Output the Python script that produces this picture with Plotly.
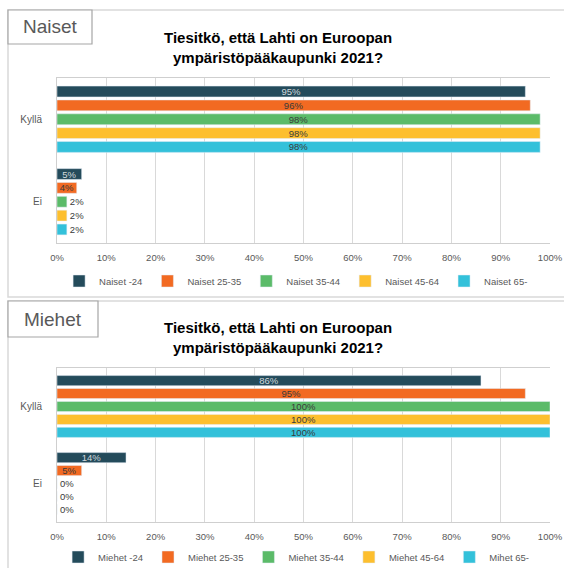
import plotly.graph_objects as go

# data
categories = ["Kyllä", "Ei"]
naiset_names = ["Naiset -24", "Naiset 25-35", "Naiset 35-44", "Naiset 45-64", "Naiset 65-"]
naiset_kylla = [95, 96, 98, 98, 98]
naiset_ei = [5, 4, 2, 2, 2]
miehet_names = ["Miehet -24", "Miehet 25-35", "Miehet 35-44", "Miehet 45-64", "Mihet 65-"]
miehet_kylla = [86, 95, 100, 100, 100]
miehet_ei = [14, 5, 0, 0, 0]
colors = ["#244b5b", "#f26a22", "#5bbb69", "#fdbf2e", "#33c1da"]
label_colors = ["#d0d8dc", "#3a3a3a", "#3a3a3a", "#3a3a3a", "#3a3a3a"]
title_text = "Tiesitkö, että Lahti on Euroopan<br>ympäristöpääkaupunki 2021?"

FONT = "Liberation Sans, Arial, sans-serif"
W, H = 564, 568

def px_y(y):
    return 1 - y / H

def px_x(x):
    return x / W

fig = go.Figure()

def add_group(names, kylla, ei, xa, ya, leg):
    for i, name in enumerate(names):
        vals = [kylla[i], ei[i]]
        fig.add_trace(go.Bar(
            name=name, y=categories, x=vals, orientation="h",
            marker_color=colors[i],
            text=[f"{v}%" for v in vals],
            textposition=["inside" if v >= 4 else "outside" for v in vals],
            insidetextanchor="middle",
            constraintext="none",
            textangle=0,
            insidetextfont=dict(size=9.5, color=label_colors[i], family=FONT),
            outsidetextfont=dict(size=9.5, color="#3a3a3a", family=FONT),
            cliponaxis=False,
            xaxis=xa, yaxis=ya, legend=leg,
        ))

add_group(naiset_names, naiset_kylla, naiset_ei, "x", "y", "legend")
add_group(miehet_names, miehet_kylla, miehet_ei, "x2", "y2", "legend2")

xdom = [px_x(57), px_x(550)]
xax = dict(range=[0, 100], dtick=10, ticksuffix="%", showgrid=True, gridcolor="#d9d9d9",
           showline=True, linecolor="#cfcfcf", mirror=True, zeroline=False,
           tickfont=dict(size=9.5, color="#595959", family=FONT), ticks="",
           ticklabelstandoff=6, domain=xdom, fixedrange=True)
yax = dict(autorange="reversed", showgrid=False, showline=True, linecolor="#cfcfcf",
           tickfont=dict(size=10, color="#595959", family=FONT), ticks="",
           ticklabelstandoff=12, fixedrange=True)

legend_common = dict(orientation="h", xanchor="center", x=0.525, yanchor="middle",
                     font=dict(size=9.5, color="#595959", family=FONT),
                     bgcolor="rgba(0,0,0,0)", itemwidth=30, tracegroupgap=0)

fig.update_layout(
    width=W, height=H, margin=dict(l=0, r=0, t=0, b=0, pad=0, autoexpand=False),
    paper_bgcolor="white", plot_bgcolor="white",
    font=dict(family=FONT, color="#595959"),
    barmode="group", bargap=0.16, bargroupgap=0.22,
    xaxis=dict(xax, anchor="y"),
    yaxis=dict(yax, domain=[px_y(243), px_y(78)], anchor="x"),
    xaxis2=dict(xax, anchor="y2"),
    yaxis2=dict(yax, domain=[px_y(522), px_y(368)], anchor="x2"),
    legend=dict(legend_common, y=px_y(281)),
    legend2=dict(legend_common, y=px_y(557)),
)

# panel frames
frame = dict(type="rect", xref="paper", yref="paper", line=dict(color="#d9d9d9", width=1.5))
fig.add_shape(frame, x0=px_x(8), x1=px_x(566), y0=px_y(297), y1=px_y(10))
fig.add_shape(frame, x0=px_x(8), x1=px_x(566), y0=px_y(572), y1=px_y(301))

# group label boxes
box = dict(type="rect", xref="paper", yref="paper", line=dict(color="#a6a6a6", width=1.2),
           fillcolor="white")
fig.add_shape(box, x0=px_x(8), x1=px_x(92), y0=px_y(44), y1=px_y(10))
fig.add_shape(box, x0=px_x(8), x1=px_x(98), y0=px_y(337), y1=px_y(301))
lab = dict(xref="paper", yref="paper", showarrow=False, xanchor="center", yanchor="middle",
           font=dict(size=19, color="#595959", family=FONT))
fig.add_annotation(lab, text="Naiset", x=px_x(50), y=px_y(27))
fig.add_annotation(lab, text="Miehet", x=px_x(53), y=px_y(319))

# titles
for yc in (47, 337):
    fig.add_annotation(text="<b>" + title_text + "</b>", x=px_x(278), y=px_y(yc),
                       xref="paper", yref="paper", showarrow=False,
                       xanchor="center", yanchor="middle",
                       font=dict(size=15, color="black", family=FONT))

# page has a default 8px body margin, drop it so the figure sits at 0,0
fig.write_html("out.html", config={"displayModeBar": False},
               post_script="document.body.style.margin='0';")
